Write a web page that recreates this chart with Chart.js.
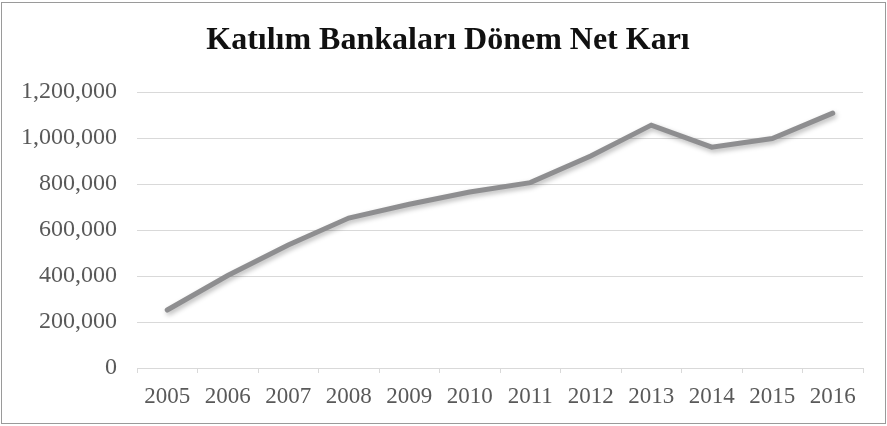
<!DOCTYPE html>
<html>
<head>
<meta charset="utf-8">
<script src="https://cdn.jsdelivr.net/npm/chart.js@4/dist/chart.umd.min.js"></script>
<style>
html,body{margin:0;padding:0;background:#fff;}
#wrap{width:887px;height:426px;position:relative;}
</style>
</head>
<body>
<div id="wrap"><canvas id="c" width="887" height="426"></canvas></div>
<script>
const titleText = 'Katılım Bankaları Dönem Net Karı';
const years = ['2005','2006','2007','2008','2009','2010','2011','2012','2013','2014','2015','2016'];
const netProfit = [252000, 402000, 535000, 652000, 712000, 765000, 806000, 922000, 1056000, 960000, 998000, 1108000];
const yMin = 0;
const yMax = 1200000;
const yStep = 200000;

const frame = {
  id: 'frame',
  beforeDraw(chart) {
    const ctx = chart.ctx;
    ctx.save();
    ctx.fillStyle = '#ffffff';
    ctx.fillRect(0, 0, chart.width, chart.height);
    ctx.restore();
  },
  afterDraw(chart) {
    const ctx = chart.ctx;
    ctx.save();
    ctx.strokeStyle = '#9a9a9a';
    ctx.lineWidth = 1;
    ctx.strokeRect(1.5, 2.5, chart.width - 3, chart.height - 5);
    ctx.restore();
  }
};
const shadow = {
  id: 'shadow',
  beforeDatasetDraw(chart) {
    const ctx = chart.ctx;
    ctx.save();
    ctx.shadowColor = 'rgba(0,0,0,0.28)';
    ctx.shadowBlur = 5;
    ctx.shadowOffsetX = 1.5;
    ctx.shadowOffsetY = 2.5;
  },
  afterDatasetDraw(chart) {
    chart.ctx.restore();
  }
};

new Chart(document.getElementById('c'), {
  type: 'line',
  data: {
    labels: years,
    datasets: [{
      data: netProfit,
      yAxisID: 'y',
      borderColor: '#8e8e90',
      borderWidth: 5,
      pointRadius: 0,
      pointHoverRadius: 0,
      tension: 0,
      fill: false,
      borderCapStyle: 'round'
    }]
  },
  options: {
    responsive: false,
    animation: false,
    events: [],
    layout: { padding: { left: 9, right: 0, top: 0, bottom: 0 } },
    plugins: {
      legend: { display: false },
      tooltip: { enabled: false },
      title: {
        display: true,
        text: titleText,
        color: '#111111',
        font: { family: 'Liberation Serif', size: 32, weight: 'bold', lineHeight: 1.2 },
        padding: { top: 22, bottom: 31.6 }
      }
    },
    scales: {
      x: {
        offset: true,
        grid: {
          display: true,
          offset: true,
          drawOnChartArea: false,
          drawTicks: true,
          tickLength: 5,
          color: '#d9d9d9'
        },
        border: { display: true, color: '#d9d9d9', width: 1 },
        ticks: {
          color: '#595959',
          font: { family: 'Liberation Serif', size: 23 },
          padding: 10,
          maxRotation: 0,
          autoSkip: false
        },
        afterFit(scale) { scale.height = 58; }
      },
      y: {
        position: 'left',
        min: yMin,
        max: yMax,
        grid: { color: '#d9d9d9', drawTicks: false, tickLength: 0 },
        border: { display: false },
        ticks: {
          stepSize: yStep,
          color: '#595959',
          font: { family: 'Liberation Serif', size: 24 },
          padding: 20,
          callback: (v) => v.toLocaleString('en-US')
        },
        afterFit(scale) { scale.width = 128; }
      },
      yRight: {
        position: 'right',
        min: yMin,
        max: yMax,
        grid: { display: false },
        border: { display: false },
        ticks: { display: false },
        afterFit(scale) { scale.width = 24; }
      }
    }
  },
  plugins: [frame, shadow]
});
</script>
</body>
</html>
